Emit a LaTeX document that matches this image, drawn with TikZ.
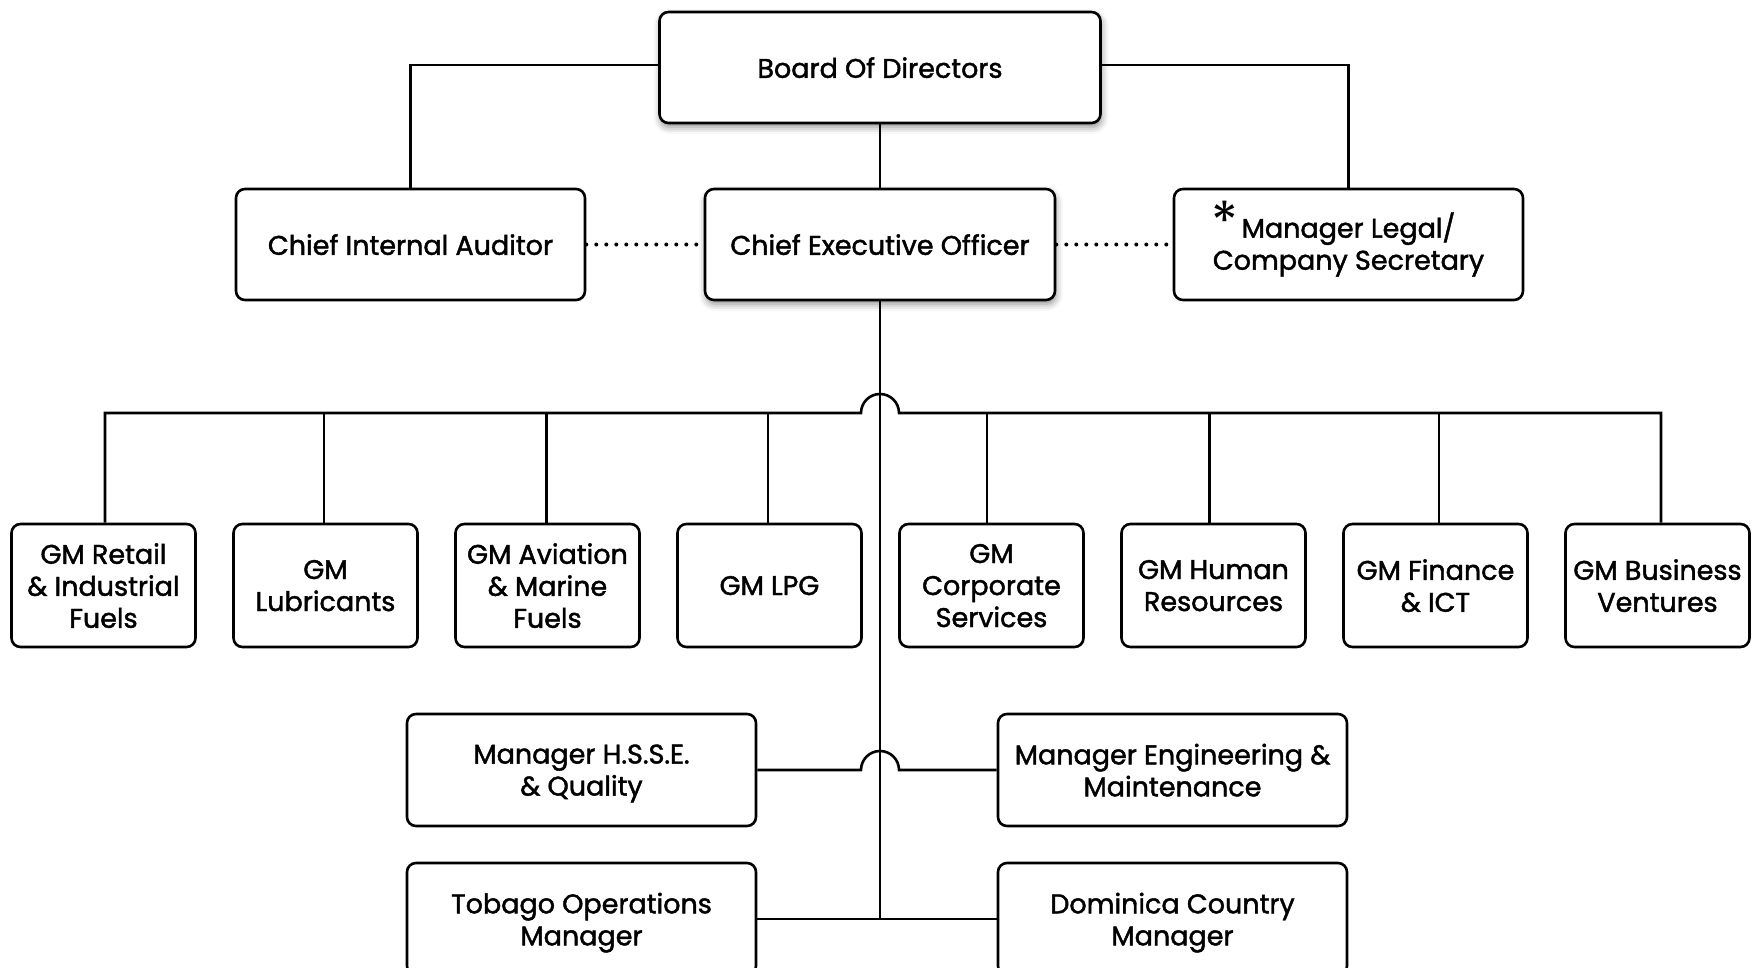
\documentclass[tikz,border=0pt]{standalone}
\usepackage{fontspec}
\setmainfont{Poppins}[FakeBold=1.6]
\newfontfamily\starfont{Poppins}
\usetikzlibrary{shadows.blur}
\begin{document}
\begin{tikzpicture}[x=1pt,y=-1pt,
  box/.style={draw, line width=2.6pt, rounded corners=9pt, fill=white, align=center,
    inner sep=0pt, minimum height=111pt, text depth=0pt, font=\fontsize{27}{32}\selectfont},
  wide/.style={box, minimum width=349pt},
  gm/.style={box, minimum width=184pt, minimum height=123pt},
  lead/.style={box, blur shadow={shadow xshift=1pt, shadow yshift=-4pt,
    shadow blur radius=7pt, shadow opacity=45}},
  wire/.style={line width=2.6pt},
  dots/.style={line width=4pt, line cap=round, dash pattern=on 0pt off 10pt},
]
\useasboundingbox (0,0) rectangle (1762,967);
\clip (0,0) rectangle (1762,967);

% top tier
\node[lead, minimum width=441pt] (board) at (880,67.5) {Board Of Directors};
\node[lead, minimum width=350pt] (ceo) at (880,244.5) {Chief Executive Officer};
\node[wide] (aud) at (410.5,244.5) {Chief Internal Auditor};
\node[wide, text depth={}] (legal) at (1348.5,244.5)
  {\llap{\smash{\raisebox{-4pt}{\starfont\fontsize{55}{55}\selectfont *}}\hspace{3pt}}Manager Legal/\\Company Secretary};

% general managers
\node[gm] (g1) at (103.5,585.5) {GM Retail\\\& Industrial\\Fuels};
\node[gm] (g2) at (325.5,585.5) {GM\\Lubricants};
\node[gm] (g3) at (547.5,585.5) {GM Aviation\\\& Marine\\Fuels};
\node[gm] (g4) at (769.5,585.5) {GM LPG};
\node[gm] (g5) at (991.5,585.5) {GM\\Corporate\\Services};
\node[gm] (g6) at (1213.5,585.5) {GM Human\\Resources};
\node[gm] (g7) at (1435.5,585.5) {GM Finance\\\& ICT};
\node[gm] (g8) at (1657.5,585.5) {GM Business\\Ventures};

% managers
\node[wide, minimum height=112pt, text depth=-6pt] (hsse) at (581.5,770) {Manager H.S.S.E.\\\& Quality};
\node[wide, minimum height=112pt, text depth=-3pt] (eng) at (1172.5,770) {Manager Engineering \&\\Maintenance};
\node[wide, minimum height=112pt] (tob) at (581.5,919) {Tobago Operations\\Manager};
\node[wide, minimum height=112pt] (dom) at (1172.5,919) {Dominica Country\\Manager};

% reporting lines
\draw[wire] (board.south) -- (ceo.north);
\draw[wire] ([yshift=2.5pt]board.west) -| (aud.north);
\draw[wire] ([yshift=2.5pt]board.east) -| (legal.north);
\draw[dots] (aud.east) -- (ceo.west);
\draw[dots] (ceo.east) -- (legal.west);

\coordinate (busy) at (0,413);
\coordinate (bus) at (ceo.south |- busy);
\draw[wire] (ceo.south) -- (ceo.south |- tob.east);
\draw[wire] ([xshift=1.5pt]g1.north) -- ([xshift=1.5pt]g1.north |- busy) -- ([xshift=-19pt]bus)
  arc[start angle=180, end angle=0, radius=19pt] -- ([xshift=3.5pt]g8.north |- busy)
  -- ([xshift=3.5pt]g8.north);
\foreach \g/\dx in {g2/-1.5,g3/-1,g4/-1.5,g5/-4.5,g6/-4,g7/3.5}
  \draw[wire] ([xshift=\dx pt]\g.north) -- ([xshift=\dx pt]\g.north |- busy);

\coordinate (mid) at (ceo.south |- hsse.east);
\draw[wire] (hsse.east) -- ([xshift=-19pt]mid)
  arc[start angle=180, end angle=0, radius=19pt] -- (eng.west);
\draw[wire] (tob.east) -- (dom.west);
\end{tikzpicture}
\end{document}
